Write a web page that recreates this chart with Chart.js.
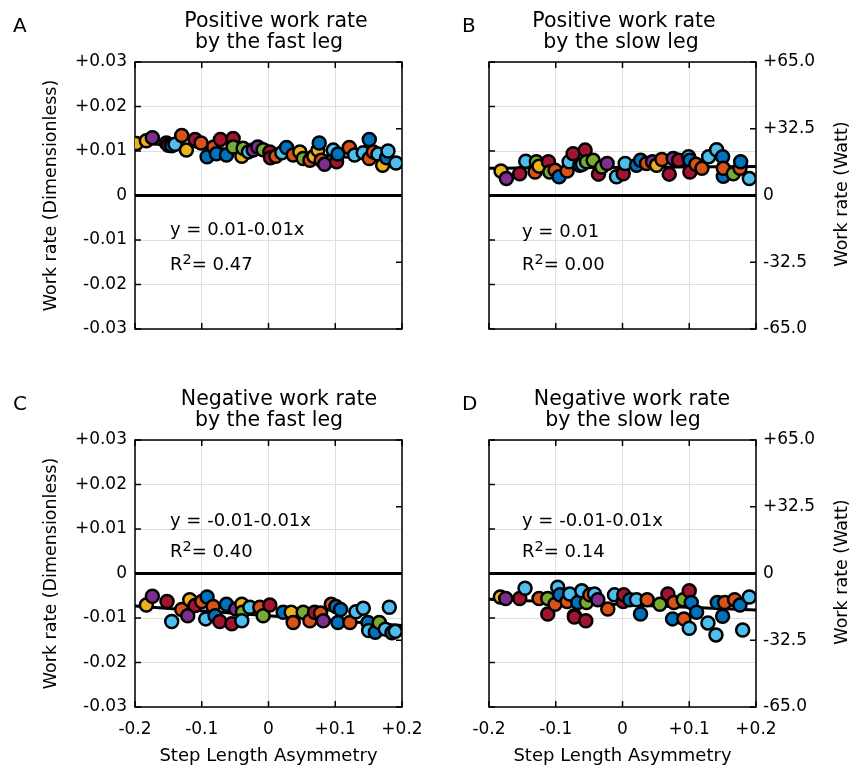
<!DOCTYPE html>
<html>
<head>
<meta charset="utf-8">
<script src="https://cdn.jsdelivr.net/npm/chart.js@4"></script>
<style>
  body { margin: 0; background: #fff; }
  #wrap { position: relative; width: 853px; height: 769px; overflow: hidden; }
  canvas { position: absolute; }
  .t { position: absolute; font-family: 'DejaVu Sans', sans-serif; color: #000; white-space: nowrap; line-height: 1; }
  .ttl { font-size: 20.5px; transform: translateX(-50%); }
  .lbl { font-size: 20px; }
  .eq { font-size: 18px; }
  .eq span { font-size: 14.5px; position: relative; top: -6px; }
  .rt { font-size: 17.5px; transform: translate(-50%, -50%) rotate(-90deg); }
</style>
</head>
<body>
<div id="wrap">
  <canvas id="panelA" width="440" height="380" style="left:0;top:0"></canvas>
  <canvas id="panelB" width="413" height="380" style="left:440px;top:0"></canvas>
  <canvas id="panelC" width="440" height="389" style="left:0;top:380px"></canvas>
  <canvas id="panelD" width="413" height="389" style="left:440px;top:380px"></canvas>

  <div class="t lbl" style="left:13px;top:15px">A</div>
  <div class="t lbl" style="left:462px;top:15px">B</div>
  <div class="t lbl" style="left:13px;top:393px">C</div>
  <div class="t lbl" style="left:462px;top:393px">D</div>

  <div class="t ttl" style="left:276px;top:10px">Positive work rate</div>
  <div class="t ttl" style="left:269px;top:31px">by the fast leg</div>
  <div class="t ttl" style="left:624px;top:10px">Positive work rate</div>
  <div class="t ttl" style="left:621px;top:31px">by the slow leg</div>
  <div class="t ttl" style="left:279px;top:388px">Negative work rate</div>
  <div class="t ttl" style="left:269px;top:409px">by the fast leg</div>
  <div class="t ttl" style="left:632px;top:388px">Negative work rate</div>
  <div class="t ttl" style="left:623px;top:409px">by the slow leg</div>

  <div class="t eq" style="left:170px;top:220px">y = 0.01-0.01x</div>
  <div class="t eq" style="left:170px;top:255px">R<span>2</span>= 0.47</div>
  <div class="t eq" style="left:522px;top:222px">y = 0.01</div>
  <div class="t eq" style="left:522px;top:255px">R<span>2</span>= 0.00</div>
  <div class="t eq" style="left:170px;top:511px">y = -0.01-0.01x</div>
  <div class="t eq" style="left:170px;top:542px">R<span>2</span>= 0.40</div>
  <div class="t eq" style="left:522px;top:511px">y = -0.01-0.01x</div>
  <div class="t eq" style="left:522px;top:542px">R<span>2</span>= 0.14</div>

  <div class="t rt" style="left:842px;top:194px">Work rate (Watt)</div>
  <div class="t rt" style="left:842px;top:572px">Work rate (Watt)</div>
</div>
<script>
// axis ticks
const xTicks = [-0.2, -0.1, 0, 0.1, 0.2];
const yTicks = [-0.03, -0.02, -0.01, 0, 0.01, 0.02, 0.03];
const wattTicks = [-65, -32.5, 0, 32.5, 65];

// matlab colour order: blue, orange, yellow, purple, green, light blue, dark red
const palette = ['#0072BD', '#D95319', '#EDB120', '#7E2F8E', '#77AC30', '#4DBEEE', '#A2142F'];

// A: positive work, fast leg
const aX = [-0.198, -0.183, -0.174, -0.153, -0.150, -0.145, -0.140, -0.130, -0.123, -0.110, -0.101, -0.092, -0.082, -0.078, -0.072, -0.063, -0.053, -0.053, -0.040, -0.038, -0.030, -0.023, -0.016, -0.008, 0.002, 0.003, 0.011, 0.020, 0.027, 0.037, 0.047, 0.052, 0.062, 0.068, 0.074, 0.076, 0.079, 0.084, 0.097, 0.102, 0.104, 0.121, 0.129, 0.142, 0.151, 0.151, 0.157, 0.164, 0.171, 0.177, 0.179, 0.191];
const aY = [0.0117, 0.0123, 0.0130, 0.0118, 0.0113, 0.0112, 0.0115, 0.0135, 0.0102, 0.0126, 0.0118, 0.0087, 0.0109, 0.0094, 0.0126, 0.0091, 0.0128, 0.0109, 0.0088, 0.0106, 0.0098, 0.0102, 0.0109, 0.0103, 0.0098, 0.0085, 0.0088, 0.0096, 0.0108, 0.0091, 0.0098, 0.0083, 0.0079, 0.0088, 0.0102, 0.0118, 0.0079, 0.0070, 0.0102, 0.0076, 0.0093, 0.0108, 0.0091, 0.0096, 0.0126, 0.0083, 0.0098, 0.0093, 0.0068, 0.0085, 0.0100, 0.0073];
const aC = [2, 2, 3, 6, 6, 0, 5, 1, 2, 6, 1, 0, 1, 0, 6, 0, 6, 4, 2, 4, 5, 3, 3, 4, 6, 6, 1, 5, 0, 1, 2, 4, 1, 2, 2, 0, 1, 3, 5, 6, 0, 1, 5, 5, 0, 1, 1, 5, 2, 0, 5, 5];
const aFit = [0.0098, -0.0102];

// B: positive work, slow leg
const bX = [-0.182, -0.174, -0.154, -0.145, -0.131, -0.129, -0.125, -0.111, -0.109, -0.101, -0.095, -0.083, -0.080, -0.074, -0.064, -0.060, -0.056, -0.054, -0.044, -0.036, -0.031, -0.023, -0.009, 0.001, 0.004, 0.021, 0.027, 0.036, 0.045, 0.051, 0.059, 0.070, 0.076, 0.084, 0.099, 0.101, 0.101, 0.110, 0.119, 0.129, 0.141, 0.150, 0.151, 0.151, 0.166, 0.176, 0.177, 0.190];
const bY = [0.0055, 0.0038, 0.0049, 0.0077, 0.0053, 0.0076, 0.0066, 0.0076, 0.0053, 0.0057, 0.0042, 0.0055, 0.0076, 0.0094, 0.0068, 0.0070, 0.0102, 0.0076, 0.0079, 0.0048, 0.0064, 0.0072, 0.0042, 0.0049, 0.0072, 0.0068, 0.0079, 0.0072, 0.0076, 0.0068, 0.0081, 0.0048, 0.0083, 0.0079, 0.0087, 0.0079, 0.0053, 0.0070, 0.0061, 0.0087, 0.0103, 0.0087, 0.0043, 0.0061, 0.0049, 0.0061, 0.0076, 0.0038];
const bC = [2, 3, 6, 5, 1, 4, 2, 6, 4, 1, 0, 1, 5, 6, 0, 5, 6, 4, 4, 6, 4, 3, 5, 6, 5, 0, 0, 1, 3, 2, 1, 6, 3, 6, 5, 0, 6, 1, 1, 5, 5, 0, 0, 1, 4, 1, 0, 5];
const bFit = [0.0063, 0.0010];

// C: negative work, fast leg
const cX = [-0.183, -0.174, -0.152, -0.145, -0.130, -0.121, -0.118, -0.110, -0.100, -0.094, -0.092, -0.083, -0.080, -0.073, -0.063, -0.055, -0.049, -0.040, -0.039, -0.040, -0.028, -0.013, -0.008, 0.002, 0.022, 0.034, 0.037, 0.052, 0.062, 0.069, 0.078, 0.082, 0.094, 0.101, 0.104, 0.108, 0.122, 0.131, 0.142, 0.149, 0.150, 0.160, 0.166, 0.175, 0.181, 0.185, 0.190];
const cY = [-0.0071, -0.0051, -0.0063, -0.0108, -0.0081, -0.0095, -0.0059, -0.0072, -0.0063, -0.0102, -0.0053, -0.0074, -0.0095, -0.0108, -0.0069, -0.0113, -0.0080, -0.0069, -0.0087, -0.0106, -0.0076, -0.0076, -0.0095, -0.0071, -0.0087, -0.0087, -0.0110, -0.0087, -0.0106, -0.0087, -0.0089, -0.0106, -0.0069, -0.0074, -0.0110, -0.0081, -0.0110, -0.0086, -0.0078, -0.0110, -0.0128, -0.0132, -0.0110, -0.0125, -0.0076, -0.0133, -0.0130];
const cC = [2, 3, 6, 5, 1, 3, 2, 6, 1, 5, 0, 1, 0, 6, 0, 6, 3, 2, 4, 5, 5, 1, 4, 6, 0, 2, 1, 4, 1, 6, 1, 3, 1, 0, 0, 0, 1, 5, 5, 0, 5, 0, 4, 5, 5, 0, 5];
const cFit = [-0.0095, -0.0110];

// D: negative work, slow leg
const dX = [-0.183, -0.175, -0.154, -0.146, -0.125, -0.112, -0.112, -0.101, -0.097, -0.094, -0.083, -0.079, -0.072, -0.072, -0.067, -0.061, -0.055, -0.054, -0.049, -0.042, -0.037, -0.022, -0.012, 0.001, 0.002, 0.011, 0.021, 0.027, 0.037, 0.056, 0.068, 0.075, 0.077, 0.091, 0.092, 0.100, 0.100, 0.103, 0.111, 0.128, 0.140, 0.142, 0.150, 0.153, 0.168, 0.176, 0.180, 0.190];
const dY = [-0.0053, -0.0056, -0.0056, -0.0033, -0.0056, -0.0056, -0.0091, -0.0069, -0.0031, -0.0048, -0.0063, -0.0046, -0.0095, -0.0098, -0.0065, -0.0039, -0.0106, -0.0065, -0.0048, -0.0046, -0.0059, -0.0080, -0.0048, -0.0063, -0.0048, -0.0059, -0.0059, -0.0091, -0.0059, -0.0069, -0.0046, -0.0102, -0.0065, -0.0059, -0.0102, -0.0039, -0.0123, -0.0065, -0.0087, -0.0111, -0.0138, -0.0065, -0.0096, -0.0065, -0.0059, -0.0071, -0.0127, -0.0053];
const dC = [2, 3, 6, 5, 1, 4, 6, 1, 5, 0, 1, 5, 6, 6, 0, 5, 6, 4, 1, 5, 3, 1, 5, 6, 6, 0, 5, 0, 1, 4, 6, 0, 1, 4, 1, 6, 5, 0, 0, 5, 5, 0, 0, 1, 1, 0, 5, 5];
const dFit = [-0.0070, -0.0060];

Chart.defaults.font.family = "'DejaVu Sans', sans-serif";
Chart.defaults.color = '#000';

function fmt(v, d) {
  if (Math.abs(v) < 1e-9) return '0';
  return (v > 0 ? '+' : '') + v.toFixed(d);
}

// box round the plot with matlab-style inward ticks
const framePlugin = {
  id: 'frame',
  beforeDatasetsDraw(chart) {
    const { ctx, chartArea: a, scales } = chart;
    ctx.save();
    ctx.strokeStyle = '#000';
    ctx.lineWidth = 1.5;
    ctx.strokeRect(a.left, a.top, a.right - a.left, a.bottom - a.top);
    ctx.beginPath();
    xTicks.forEach(v => {
      const px = scales.x.getPixelForValue(v);
      ctx.moveTo(px, a.bottom); ctx.lineTo(px, a.bottom - 6);
      ctx.moveTo(px, a.top); ctx.lineTo(px, a.top + 6);
    });
    yTicks.forEach(v => {
      const py = scales.y.getPixelForValue(v);
      ctx.moveTo(a.left, py); ctx.lineTo(a.left + 6, py);
    });
    wattTicks.forEach(v => {
      const py = scales.y2.getPixelForValue(v);
      ctx.moveTo(a.right, py); ctx.lineTo(a.right - 6, py);
    });
    ctx.stroke();
    ctx.restore();
  }
};

function makePanel(id, box, area, xs, ys, cs, fit, opt) {
  const leftW = opt.left ? area.l - 41 : 0;
  const rightW = opt.right ? box.L + box.W - area.r : 0;
  const xH = opt.bottom ? box.T + box.H - area.b - 2 : 10;

  new Chart(document.getElementById(id), {
    type: 'scatter',
    data: {
      datasets: [
        {
          data: xs.map((x, i) => ({ x: x, y: ys[i] })),
          pointBackgroundColor: cs.map(c => palette[c]),
          pointBorderColor: '#000',
          pointBorderWidth: 2.5,
          pointRadius: 6.5,
          order: 0
        },
        {
          data: [-0.2, 0.2].map(x => ({ x: x, y: fit[0] + fit[1] * x })),
          showLine: true,
          borderColor: '#000',
          borderWidth: 3,
          pointRadius: 0,
          order: 1
        }
      ]
    },
    plugins: [framePlugin],
    options: {
      responsive: false,
      animation: false,
      events: [],
      layout: {
        padding: {
          left: area.l - box.L - leftW,
          right: box.L + box.W - area.r - rightW,
          top: area.t - box.T,
          bottom: box.T + box.H - area.b - xH
        }
      },
      plugins: { legend: { display: false }, tooltip: { enabled: false } },
      scales: {
        x: {
          type: 'linear', min: -0.2, max: 0.2,
          afterBuildTicks: s => { s.ticks = xTicks.map(v => ({ value: v })); },
          afterFit: s => { s.height = xH; },
          border: { display: false },
          grid: { color: '#dfdfdf', drawTicks: false },
          ticks: { display: opt.bottom, padding: 12, font: { size: 17 }, callback: v => fmt(v, 1) },
          title: { display: opt.bottom, text: 'Step Length Asymmetry', font: { size: 18 }, padding: 0 }
        },
        y: {
          type: 'linear', min: -0.03, max: 0.03,
          afterBuildTicks: s => { s.ticks = yTicks.map(v => ({ value: v })); },
          afterFit: s => { s.width = leftW; },
          border: { display: false },
          grid: {
            drawTicks: false,
            color: c => (c.tick && Math.abs(c.tick.value) < 1e-9 ? '#000' : '#dfdfdf'),
            lineWidth: c => (c.tick && Math.abs(c.tick.value) < 1e-9 ? 3 : 1)
          },
          ticks: { display: opt.left, padding: 8, font: { size: 17 }, callback: v => fmt(v, 2) },
          title: { display: opt.left, text: 'Work rate (Dimensionless)', font: { size: 17.5 }, padding: 0 }
        },
        y2: {
          type: 'linear', position: 'right', min: -65, max: 65,
          display: opt.right,
          afterBuildTicks: s => { s.ticks = wattTicks.map(v => ({ value: v })); },
          afterFit: s => { s.width = rightW; },
          border: { display: false },
          grid: { drawOnChartArea: false, drawTicks: false },
          ticks: { padding: 7, font: { size: 17 }, callback: v => fmt(v, 1) }
        }
      }
    }
  });
}

makePanel('panelA', { L: 0, T: 0, W: 440, H: 380 }, { l: 135, t: 62, r: 402, b: 329 }, aX, aY, aC, aFit, { left: true, right: false, bottom: false });
makePanel('panelB', { L: 440, T: 0, W: 413, H: 380 }, { l: 489, t: 62, r: 756, b: 329 }, bX, bY, bC, bFit, { left: false, right: true, bottom: false });
makePanel('panelC', { L: 0, T: 380, W: 440, H: 389 }, { l: 135, t: 440, r: 402, b: 707 }, cX, cY, cC, cFit, { left: true, right: false, bottom: true });
makePanel('panelD', { L: 440, T: 380, W: 413, H: 389 }, { l: 489, t: 440, r: 756, b: 707 }, dX, dY, dC, dFit, { left: false, right: true, bottom: true });
</script>
</body>
</html>
